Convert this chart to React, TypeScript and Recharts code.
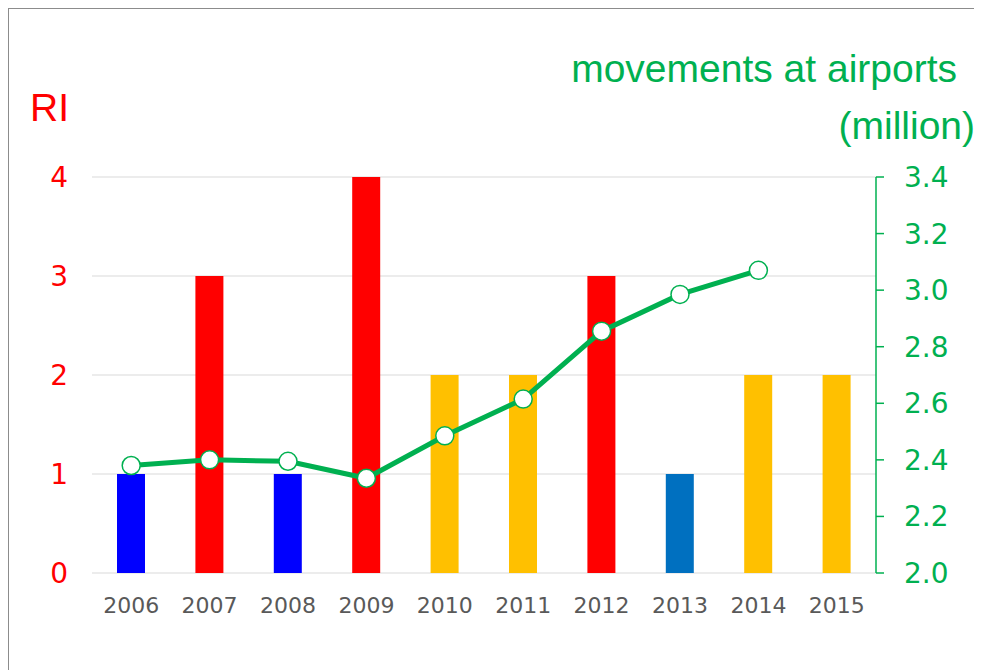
import React from 'react';
import {
  ComposedChart,
  Bar,
  Line,
  Cell,
  XAxis,
  YAxis,
  CartesianGrid,
} from 'recharts';

// Years on the category axis
const years = ['2006', '2007', '2008', '2009', '2010', '2011', '2012', '2013', '2014', '2015'];
// RI value per year (bars, left axis)
const riValues = [1, 3, 1, 4, 2, 2, 3, 1, 2, 2];
// bar colour per year
const riColors = ['#0000FF', '#FF0000', '#0000FF', '#FF0000', '#FFC000', '#FFC000', '#FF0000', '#0070C0', '#FFC000', '#FFC000'];
// movements at airports, million (line, right axis)
const movements = [2.38, 2.4, 2.395, 2.335, 2.485, 2.615, 2.855, 2.985, 3.07, null];

const leftTicks = [0, 1, 2, 3, 4];
const rightTicks = [2.0, 2.2, 2.4, 2.6, 2.8, 3.0, 3.2, 3.4];

const GREEN = '#00B050';
const RED = '#FF0000';

const chartData = years.map((year, i) => ({
  year,
  ri: riValues[i],
  movements: movements[i],
}));

export default function App() {
  return (
    <div
      style={{
        position: 'relative',
        width: 1000,
        height: 680,
        border: '1px solid #8c8c8c',
        background: '#fff',
        fontFamily: '"Liberation Sans", Arial, sans-serif',
      }}
    >
      <style>{'body{overflow:hidden}'}</style>
      <div style={{ position: 'absolute', left: 0, top: 0, width: 970, height: 680 }}>
        {/* axis titles */}
        <div style={{ position: 'absolute', left: 21, top: 77, color: RED, fontSize: 39, lineHeight: '44px' }}>
          RI
        </div>
        <div style={{ position: 'absolute', right: 22, top: 38, color: GREEN, fontSize: 39, lineHeight: '44px', textAlign: 'right' }}>
          movements at airports
        </div>
        <div style={{ position: 'absolute', right: 4, top: 95, color: GREEN, fontSize: 39, lineHeight: '44px', textAlign: 'right' }}>
          (million)
        </div>

        <div style={{ position: 'absolute', left: 0, top: 0 }}>
          <ComposedChart
            width={970}
            height={660}
            data={chartData}
            margin={{ top: 168, right: 10, bottom: 0, left: 0 }}
            barCategoryGap={0}
          >
            <CartesianGrid yAxisId="left" vertical={false} stroke="#d9d9d9" strokeWidth={1} />
            <XAxis
              dataKey="year"
              axisLine={false}
              tickLine={false}
              tickSize={0}
              tickMargin={24}
              height={96}
              interval={0}
              tick={{ fill: '#595959', fontSize: 22, fontFamily: '"DejaVu Sans", Verdana, sans-serif' }}
            />
            <YAxis
              yAxisId="left"
              orientation="left"
              width={83}
              domain={[0, 4]}
              ticks={leftTicks}
              axisLine={false}
              tickLine={false}
              tickSize={0}
              tickMargin={24}
              tick={{ fill: RED, fontSize: 28, fontFamily: '"DejaVu Sans", Verdana, sans-serif' }}
            />
            <YAxis
              yAxisId="right"
              orientation="right"
              width={93}
              domain={[2.0, 3.4]}
              ticks={rightTicks}
              tickFormatter={(v: number) => v.toFixed(1)}
              axisLine={{ stroke: GREEN, strokeWidth: 1.5 }}
              tickLine={{ stroke: GREEN, strokeWidth: 1.5 }}
              tickSize={8}
              tickMargin={20}
              tick={{ fill: GREEN, fontSize: 28, fontFamily: '"DejaVu Sans", Verdana, sans-serif', textAnchor: 'start' }}
            />
            <Bar yAxisId="left" dataKey="ri" barSize={28} isAnimationActive={false}>
              {chartData.map((entry, index) => (
                <Cell key={entry.year} fill={riColors[index]} />
              ))}
            </Bar>
            <Line
              yAxisId="right"
              dataKey="movements"
              stroke={GREEN}
              strokeWidth={5}
              dot={{ r: 9, fill: '#fff', stroke: GREEN, strokeWidth: 1.5 }}
              activeDot={false}
              connectNulls={false}
              isAnimationActive={false}
            />
          </ComposedChart>
        </div>
      </div>
    </div>
  );
}
